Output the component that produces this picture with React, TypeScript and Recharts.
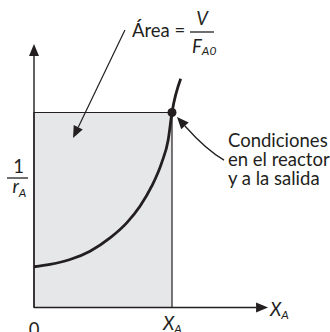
import React from 'react';
import {
  ComposedChart,
  Line,
  XAxis,
  YAxis,
  ReferenceArea,
  ReferenceLine,
  ReferenceDot,
} from 'recharts';

// conversion X_A (as a fraction of the exit conversion) and 1/r_A (fraction of the exit value)
const conversion = [0, 0.116, 0.261, 0.406, 0.551, 0.672, 0.768, 0.853, 0.925, 0.973, 1.0, 1.063];
const inverseRate = [0.209, 0.221, 0.246, 0.289, 0.357, 0.434, 0.519, 0.622, 0.742, 0.862, 1.0, 1.173];
const exitConversion = 1;
const exitInverseRate = 1;

// annotation anchors, in data units
const axisTop = 1.351;
const axisRight = 1.696;
const areaArrow = [{ x: 0.659, y: 1.423 }, { x: 0.283, y: 0.869 }];
const exitArrow = [{ x: 1.377, y: 0.756 }, { x: 1.036, y: 0.977 }];

const ink = '#231f20';
const shade = '#e6e7e8';
const font = 'Lato, "Open Sans", sans-serif';

const data = conversion.map((x, i) => ({ x, y: inverseRate[i] }));

/**
 * Line with a filled arrow head at the second end point (optionally bent)
 */
const arrowShape = (len: number, half: number, width: number, curved = false) => (p: any) => {
  const { x1, y1, x2, y2 } = p;
  const cx = curved ? x2 + 0.62 * (x1 - x2) : x1;
  const cy = curved ? y1 - 0.24 * (y1 - y2) : y1;
  const dx = x2 - cx;
  const dy = y2 - cy;
  const d = Math.hypot(dx, dy) || 1;
  const ux = dx / d;
  const uy = dy / d;
  const bx = x2 - ux * len;
  const by = y2 - uy * len;
  const head = `${x2},${y2} ${bx - uy * half},${by + ux * half} ${bx + uy * half},${by - ux * half}`;
  const path = curved ? `M${x1},${y1} Q${cx},${cy} ${bx},${by}` : `M${x1},${y1} L${bx},${by}`;
  return (
    <g>
      <path d={path} stroke={ink} strokeWidth={width} fill="none" />
      <polygon points={head} fill={ink} />
    </g>
  );
};

export default function App() {
  return (
    <div style={{ position: 'absolute', left: 0, top: 0, width: 330, height: 332, background: '#fff' }}>
      <ComposedChart
        width={330}
        height={332}
        data={data}
        margin={{ top: 15, right: 20, bottom: 24.5, left: 34 }}
      >
        <XAxis type="number" dataKey="x" domain={[0, 2]} hide />
        <YAxis type="number" domain={[0, 1.5]} hide />
        <ReferenceArea
          x1={0}
          x2={exitConversion}
          y1={0}
          y2={exitInverseRate}
          fill={shade}
          fillOpacity={1}
          stroke={ink}
          strokeWidth={1.2}
        />
        <ReferenceLine
          segment={[{ x: 0, y: 0 }, { x: 0, y: axisTop }]}
          shape={arrowShape(12, 5, 1.4)}
        />
        <ReferenceLine
          segment={[{ x: 0, y: 0 }, { x: axisRight, y: 0 }]}
          shape={arrowShape(12, 5, 1.4)}
        />
        <Line
          type="monotone"
          dataKey="y"
          stroke={ink}
          strokeWidth={2.8}
          dot={false}
          activeDot={false}
          isAnimationActive={false}
        />
        <ReferenceDot x={exitConversion} y={exitInverseRate} r={4.5} fill={ink} stroke="none" />
        <ReferenceLine segment={areaArrow} shape={arrowShape(12, 5, 1.2)} />
        <ReferenceLine segment={exitArrow} shape={arrowShape(12, 5, 1.3, true)} />
      </ComposedChart>

      <svg
        width={330}
        height={332}
        style={{ position: 'absolute', left: 0, top: 0, pointerEvents: 'none' }}
        fontFamily={font}
        fill={ink}
      >
        <text x={132} y={37} fontSize={18.5}>Área =</text>
        <text x={202} y={25} fontSize={18.5} fontStyle="italic" textAnchor="middle">V</text>
        <line x1={190} x2={214} y1={32} y2={32} stroke={ink} strokeWidth={1.3} />
        <text x={192} y={53} fontSize={18.5} fontStyle="italic">
          F<tspan fontSize={12} dy={2}>A0</tspan>
        </text>

        <text x={18.5} y={173} fontSize={18.5} textAnchor="middle">1</text>
        <line x1={7} x2={28} y1={178} y2={178} stroke={ink} strokeWidth={1.3} />
        <text x={12.5} y={193} fontSize={18.5} fontStyle="italic">
          r<tspan fontSize={12} dy={4}>A</tspan>
        </text>

        <text x={34} y={336} fontSize={18.5} textAnchor="middle">0</text>
        <text x={163} y={330} fontSize={18.5} fontStyle="italic">
          X<tspan fontSize={12} dy={3}>A</tspan>
        </text>
        <text x={270} y={316} fontSize={18.5} fontStyle="italic">
          X<tspan fontSize={12} dy={3}>A</tspan>
        </text>

        <text x={228} y={147} fontSize={18.5}>Condiciones</text>
        <text x={228} y={166} fontSize={18.5}>en el reactor</text>
        <text x={228} y={185} fontSize={18.5}>y a la salida</text>
      </svg>
    </div>
  );
}
